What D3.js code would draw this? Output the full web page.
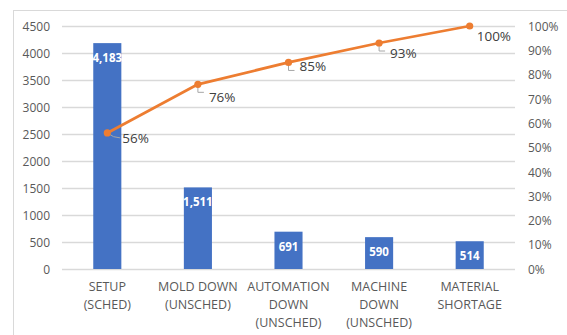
<!DOCTYPE html>
<html><head><meta charset="utf-8">
<script src="https://cdn.jsdelivr.net/npm/d3@7"></script>
<style>html,body{margin:0;padding:0;background:#fff;}svg{display:block;}</style>
</head><body>
<svg id="c" width="567" height="335"></svg>
<script>
const categories = [["SETUP","(SCHED)"],["MOLD DOWN","(UNSCHED)"],["AUTOMATION","DOWN","(UNSCHED)"],["MACHINE","DOWN","(UNSCHED)"],["MATERIAL","SHORTAGE"]];
const counts = [4183, 1511, 691, 590, 514];
const cumulativePct = [56, 76, 85, 93, 100];
const leftTicks = [0,500,1000,1500,2000,2500,3000,3500,4000,4500];
const rightTicks = [0,10,20,30,40,50,60,70,80,90,100];

const svg = d3.select("#c");
const font = "'Open Sans', sans-serif";
const L = 62, R = 515, T = 26, B = 269;

// chart border
svg.append("rect").attr("x",13.5).attr("y",10.5).attr("width",600).attr("height",400)
  .attr("fill","none").attr("stroke","#d9d9d9").attr("stroke-width",1);

const ids = d3.range(categories.length);
const x = d3.scaleBand().domain(ids).range([L,R]).paddingInner(0.69).paddingOuter(0.345);
const y = d3.scaleLinear().domain([0,4500]).range([B,T]);
const y2 = d3.scaleLinear().domain([0,100]).range([B,T]);

// gridlines
svg.append("g").selectAll("line").data(leftTicks).join("line")
  .attr("x1",L).attr("x2",R).attr("y1",d=>y(d)+0.5).attr("y2",d=>y(d)+0.5)
  .attr("stroke","#d9d9d9").attr("stroke-width",1.3);

// left axis
const ax = svg.append("g").attr("transform",`translate(${L},0)`)
  .call(d3.axisLeft(y).tickValues(leftTicks).tickSize(0).tickPadding(12).tickFormat(d3.format("d")));
ax.select(".domain").remove();
ax.selectAll("text").attr("font-family",font).attr("font-size",12).attr("fill","#595959").attr("dy","0.35em");

// right axis
const ax2 = svg.append("g").attr("transform",`translate(${R},0)`)
  .call(d3.axisRight(y2).tickValues(rightTicks).tickSize(0).tickPadding(13).tickFormat(d=>d+"%"));
ax2.select(".domain").remove();
ax2.selectAll("text").attr("font-family",font).attr("font-size",12).attr("fill","#595959").attr("dy","0.35em");

// bars
svg.append("g").selectAll("rect").data(counts).join("rect")
  .attr("x",(d,i)=>x(i)).attr("width",x.bandwidth())
  .attr("y",d=>y(d)).attr("height",d=>B-y(d)).attr("fill","#4472C4");

// bar labels
svg.append("g").selectAll("text").data(counts).join("text")
  .attr("x",(d,i)=>x(i)+x.bandwidth()/2).attr("y",d=>y(d)+15).attr("dy","0.35em")
  .attr("text-anchor","middle").attr("font-family",font).attr("font-size",11.5).attr("font-weight","bold")
  .attr("fill","#fff").text(d=>d3.format(",")(d));

// category labels
const cx = i => x(i)+x.bandwidth()/2;
const cat = svg.append("g");
categories.forEach((lines,i)=>{
  const t = cat.append("text").attr("text-anchor","middle").attr("font-family",font)
    .attr("font-size",12.5).attr("fill","#595959");
  lines.forEach((s,j)=>t.append("tspan").attr("x",cx(i)).attr("y",287+j*18).attr("dy","0.35em").text(s));
});

// leader lines
const leaders = svg.append("g").attr("fill","none").attr("stroke","#a6a6a6").attr("stroke-width",1);
cumulativePct.forEach((p,i)=>{
  if (i===cumulativePct.length-1) return;
  const px = cx(i), py = y2(p);
  if (i===0) leaders.append("path").attr("d",`M${px},${py} Q${px+6},${py+5} ${px+13},${py+5}`);
  else leaders.append("path").attr("d",`M${px},${py} L${px},${py+8} L${px+6},${py+8}`);
});

// line
const line = d3.line().x((d,i)=>cx(i)).y(d=>y2(d));
svg.append("path").datum(cumulativePct).attr("d",line).attr("fill","none")
  .attr("stroke","#ED7D31").attr("stroke-width",2.75).attr("stroke-linejoin","round");
svg.append("g").selectAll("circle").data(cumulativePct).join("circle")
  .attr("cx",(d,i)=>cx(i)).attr("cy",d=>y2(d)).attr("r",3.6).attr("fill","#ED7D31");

// line labels
const offs = [[15,5],[11,13],[11,4],[11,10],[7,10]];
svg.append("g").selectAll("text").data(cumulativePct).join("text")
  .attr("x",(d,i)=>cx(i)+offs[i][0]).attr("y",(d,i)=>y2(d)+offs[i][1]).attr("dy","0.35em")
  .attr("font-family",font).attr("font-size",13.5).attr("fill","#404040")
  .text(d=>d+"%");
</script>
</body></html>
